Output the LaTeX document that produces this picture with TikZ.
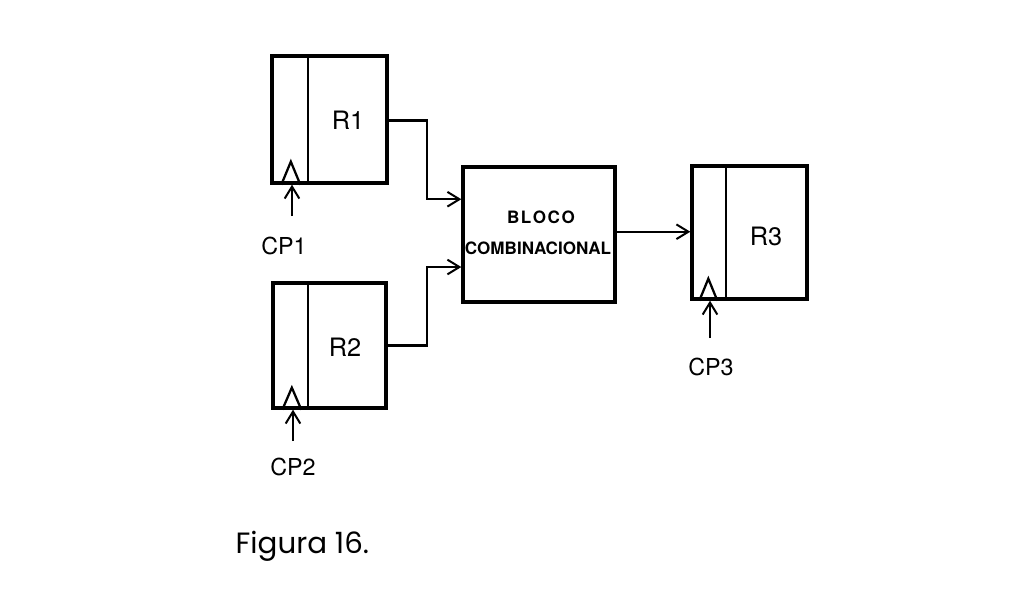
\documentclass[tikz,border=0pt]{standalone}
\usepackage{fontspec}
\setmainfont{TeX Gyre Heros}
\newfontfamily\figfont{Poppins}
\usetikzlibrary{fit,calc,arrows.meta}
\begin{document}
\begin{tikzpicture}[x=0.75pt,y=-0.75pt,
  box/.style={draw, line width=2.5pt, inner sep=0pt},
  divider/.style={line width=1.7pt},
  clk/.style={line width=1.7pt, line join=miter},
  conn/.style={line width=1.6pt, -{Straight Barb[length=9pt,width=11pt,line width=1.5pt]}},
  reglabel/.style={font=\fontsize{19}{19}\selectfont},
  cplabel/.style={font=\fontsize{17.5}{18}\selectfont},
  blklabel/.style={font=\bfseries\fontsize{12.8}{13}\selectfont}]
\useasboundingbox (0,0) rectangle (1020,597);
\fill[white] (0,0) rectangle (1020,597);

% corner coordinates
\coordinate (r1a) at (272,56);  \coordinate (r1b) at (387,183);
\coordinate (r2a) at (273,283); \coordinate (r2b) at (386,408);
\coordinate (r3a) at (692,166); \coordinate (r3b) at (807,299);
\coordinate (bka) at (463,167); \coordinate (bkb) at (615,302);

\node[box, fit=(r1a)(r1b)] (r1) {};
\node[box, fit=(r2a)(r2b)] (r2) {};
\node[box, fit=(r3a)(r3b)] (r3) {};
\node[box, fit=(bka)(bkb)] (blk) {};

% dividers
\draw[divider] ($(r1.north west)+(38,0)$) -- ($(r1.south west)+(38,0)$);
\draw[divider] ($(r2.north west)+(37,0)$) -- ($(r2.south west)+(37,0)$);
\draw[divider] ($(r3.north west)+(36,0)$) -- ($(r3.south west)+(36,0)$);

% clock triangles
\draw[clk] ($(r1.south west)+(11,0)$) -- ++(9.5,-23) -- ++(9.5,23);
\draw[clk] ($(r2.south west)+(11,0)$) -- ++(9.5,-22) -- ++(9.5,22);
\draw[clk] ($(r3.south west)+(9,0)$) -- ++(9,-22) -- ++(9,22);

% labels
\node[reglabel] (r1t) at (348,120) {R1};
\node[reglabel] (r2t) at (345,347) {R2};
\node[reglabel] (r3t) at (766,236) {R3};
\node[blklabel] (bt1) at (541,217) {B\kern.09em L\kern.09em O\kern.09em C\kern.09em O};
\node[blklabel] (bt2) at (538,248) {COMBINACIONAL};

% clock inputs
\coordinate (c1) at (292,216);
\coordinate (c2) at (293,441);
\coordinate (c3) at (710,338);
\draw[conn] (c1) -- (c1 |- r1.south);
\draw[conn] (c2) -- (c2 |- r2.south);
\draw[conn] (c3) -- (c3 |- r3.south);
\node[cplabel] (cp1) at (284,246) {CP1};
\node[cplabel] (cp2) at (293,467) {CP2};
\node[cplabel] (cp3) at (711,367) {CP3};

% data connections
\coordinate (in1) at ($(blk.north west)!0.245!(blk.south west)$);
\coordinate (in2) at ($(blk.north west)!0.735!(blk.south west)$);
\draw[conn] ($(r1.east)+(0,1)$) -- ++(38,0) |- (in1);
\draw[conn] (r2.east) -- ++(39,0) |- (in2);
\coordinate (out) at ($(blk.north east)!0.48!(blk.south east)$);
\draw[conn] (out) -- (out -| r3.west);

\node[font=\figfont\fontsize{22}{22}\selectfont, anchor=west] (fig) at (231,546) {Figura 16.};
\end{tikzpicture}
\end{document}
